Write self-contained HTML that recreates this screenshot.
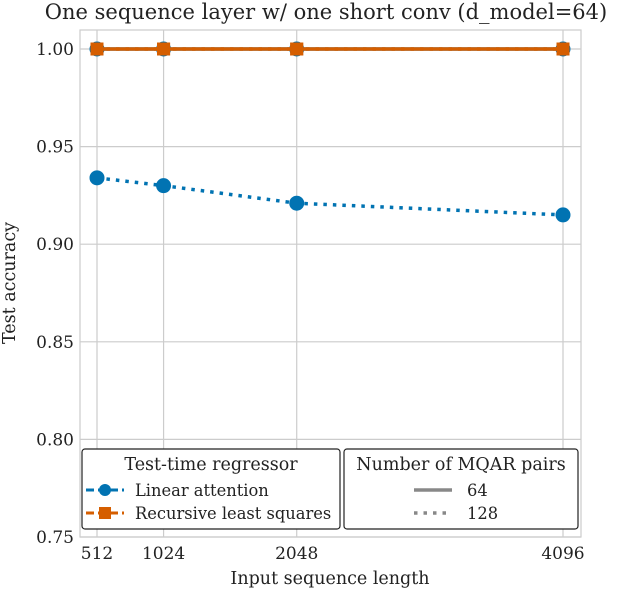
<!DOCTYPE html>
<html><head><meta charset="utf-8"><style>
body{margin:0;background:#fff;}
svg text{font-family:"DejaVu Serif","Liberation Serif",serif;fill:#222;}
</style></head><body>
<svg id="chart" width="622" height="590" xmlns="http://www.w3.org/2000/svg">
<g id="grid"></g>
<rect x="80" y="30" width="501" height="507" fill="none" stroke="#ccc" stroke-width="1.2"/>
<g id="marks"></g>
<g id="ticks"></g>
<text x="326" y="19" font-size="21" text-anchor="middle">One sequence layer w/ one short conv (d_model=64)</text>
<text x="330" y="584" font-size="17.5" text-anchor="middle">Input sequence length</text>
<text transform="translate(15,283) rotate(-90)" font-size="17.5" text-anchor="middle">Test accuracy</text>
<g>
<rect x="82" y="449" width="258" height="80" rx="3" fill="#fff" stroke="#222" stroke-width="1.2"/>
<text x="211" y="470" font-size="17.5" text-anchor="middle">Test-time regressor</text>
<g>
<line x1="86" y1="490" x2="124" y2="490" stroke="#0173b2" stroke-width="3" stroke-dasharray="8,4"/>
<circle cx="105" cy="490" r="6" fill="#0173b2"/>
<text x="135" y="496" font-size="16.3">Linear attention</text></g>
<g>
<line x1="86" y1="513" x2="124" y2="513" stroke="#d55e00" stroke-width="3" stroke-dasharray="8,4"/>
<rect x="99" y="507" width="12" height="12" fill="#d55e00"/>
<text x="135" y="519" font-size="16.3">Recursive least squares</text></g>
</g>
<g>
<rect x="344" y="449" width="234" height="80" rx="3" fill="#fff" stroke="#222" stroke-width="1.2"/>
<text x="461" y="470" font-size="17.5" text-anchor="middle">Number of MQAR pairs</text>
<g>
<line x1="414" y1="490" x2="452" y2="490" stroke="#888" stroke-width="3.5"/>
<text x="467" y="496" font-size="16.3">64</text></g>
<g>
<line x1="414" y1="513" x2="452" y2="513" stroke="#888" stroke-width="3.5" stroke-dasharray="3.5,6"/>
<text x="467" y="519" font-size="16.3">128</text></g>
</g>
</svg>
<script>
const seqLengths=[512,1024,2048,4096];
const yTicks=[0.75,0.80,0.85,0.90,0.95,1.00];
const laAcc64=[1.0,1.0,1.0,1.0];
const laAcc128=[0.934,0.930,0.921,0.915];
const rlsAcc64=[1.0,1.0,1.0,1.0];
const rlsAcc128=[1.0,1.0,1.0,1.0];
const NS="http://www.w3.org/2000/svg";
const xs=v=>97+(v-512)*(466/3584);
const ys=v=>537-(v-0.75)*(488/0.25);
function mk(tag,attrs,parent){const e=document.createElementNS(NS,tag);for(const k in attrs)e.setAttribute(k,attrs[k]);document.getElementById(parent).appendChild(e);return e;}
seqLengths.forEach(v=>{
  const l=mk('line',{x1:xs(v),x2:xs(v),y1:30,y2:537,stroke:'#ccc','stroke-width':1.2},'grid');
  
  
  const t=mk('text',{x:xs(v),y:559,'font-size':17,'text-anchor':'middle'},'ticks');
  t.textContent=v;
  
  
});
yTicks.forEach(v=>{
  const l=mk('line',{x1:80,x2:581,y1:ys(v),y2:ys(v),stroke:'#ccc','stroke-width':1.2},'grid');
  
  
  const t=mk('text',{x:74,y:ys(v)+6,'font-size':17,'text-anchor':'end'},'ticks');
  t.textContent=v.toFixed(2);
  
  
});
function series(vals,color,dash,marker,name){
  const pts=vals.map((v,i)=>xs(seqLengths[i])+','+ys(v)).join(' ');
  const a={points:pts,fill:'none',stroke:color,'stroke-width':3.5};
  if(dash)a['stroke-dasharray']=dash;
  const p=mk('polyline',a,'marks');
  
  
  vals.forEach((v,i)=>{
    let m;
    if(marker==='circle')m=mk('circle',{cx:xs(seqLengths[i]),cy:ys(v),r:7.5,fill:color},'marks');
    else m=mk('rect',{x:xs(seqLengths[i])-6.5,y:ys(v)-6.5,width:13,height:13,fill:color},'marks');
    
    
  });
}
series(laAcc64,'#0173b2',null,'circle','linear-attention-64');
series(laAcc128,'#0173b2','3.5,6','circle','linear-attention-128');
series(rlsAcc64,'#d55e00',null,'square','rls-64');
series(rlsAcc128,'#d55e00','3.5,6','square','rls-128');
</script>
</body></html>
